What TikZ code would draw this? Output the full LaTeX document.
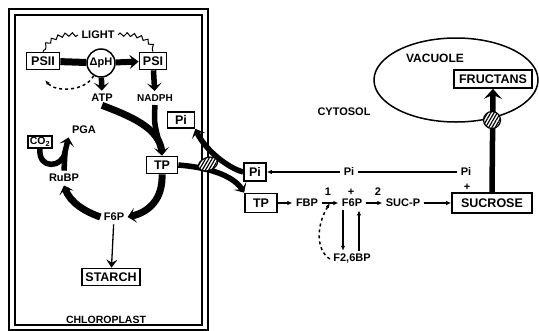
\documentclass[tikz,border=0pt]{standalone}
\usepackage{fontspec}
\setsansfont{Liberation Sans}
\usetikzlibrary{arrows.meta,positioning,shapes.geometric,decorations.pathmorphing,patterns.meta,calc}

\begin{document}
\begin{tikzpicture}[x=1pt, y=-1pt,
  font=\sffamily\bfseries\fontsize{11}{12}\selectfont,
  box/.style={draw, line width=1.7pt, inner sep=2pt,
    font=\sffamily\bfseries\fontsize{12.5}{13}\selectfont},
  thk/.style={line width=5.5pt},
  bigarr/.style={thk, -{Stealth[length=8pt,width=15pt,inset=4pt]}},
  arr/.style={-{Latex[length=5pt,width=4.5pt]}, line width=1.7pt},
  wave/.style={decorate, decoration={snake, amplitude=1.8pt, segment length=7pt}, line width=1pt},
  hatch/.style={draw, line width=1.2pt, fill=white,
    postaction={pattern={Lines[angle=60,distance=2.8pt,line width=1.2pt]}}}
]
\useasboundingbox (0,0) rectangle (539,330);

% chloroplast envelope
\draw[line width=2pt] (8.5,8.5) rectangle (208,329.5);
\draw[line width=1.2pt] (15,15) rectangle (202,325);

% light reactions
\node[box, minimum width=33pt, minimum height=17pt] (psii) at (43,61) {PSII};
\node[draw, circle, line width=1.5pt, minimum size=28pt, inner sep=0pt] (dph) at (101,63) {ΔpH};
\node[box, minimum width=27pt, minimum height=17pt] (psi) at (153,61) {PSI};
\node (light) at (98,35) {LIGHT};
\node (atp) at (102,98) {ATP};
\node[font=\sffamily\bfseries\fontsize{10}{11}\selectfont] (nadph) at (155,98) {NADPH};

% Calvin cycle
\node (pga) at (84,130) {PGA};
\node[box, font=\sffamily\bfseries\fontsize{10.5}{11}\selectfont, inner sep=1.5pt] (co2) at (40,142) {CO\textsubscript{2}};
\node (rubp) at (64,178) {RuBP};
\node[box, minimum width=31pt, minimum height=17pt] (tpin) at (162,165) {TP};
\node[box, minimum width=27pt, minimum height=16pt] (piin) at (181,120) {Pi};
\node (f6pin) at (114,217) {F6P};
\node[box, minimum width=58pt, minimum height=17pt] (starch) at (111,277) {STARCH};
\node[font=\sffamily\bfseries\fontsize{10.5}{11}\selectfont] (chloro) at (106,320) {CHLOROPLAST};
\coordinate (co2fix) at (65,152);
\coordinate (dashend) at (45,80);

% cytosol and vacuole
\node[box, minimum width=22pt, minimum height=18pt] (piout) at (255,172) {Pi};
\node[box, minimum width=32pt, minimum height=19pt] (tpout) at (261,203) {TP};
\node (cytosol) at (344,112) {CYTOSOL};
\node[draw, ellipse, line width=1.5pt, minimum width=164pt, minimum height=84pt] (vac) at (456,80) {};
\node[font=\sffamily\bfseries\fontsize{12}{13}\selectfont] (vaclbl) at (435,58) {VACUOLE};
\node[box, minimum width=78pt, minimum height=18pt] (fruct) at (493,79) {FRUCTANS};
\node[box, minimum width=80pt, minimum height=20pt] (sucr) at (492,203) {SUCROSE};
\node (fbp) at (307,203) {FBP};
\node (f6p) at (352,203) {F6P};
\node (sucp) at (403,203) {SUC-P};
\node (f26) at (352,259) {F2,6BP};
\node (pimid) at (349,172) {Pi};
\node (piright) at (466,172) {Pi};
\node (plus1) at (467,187) {+};
\node (n1) at (328,192) {1};
\node (plus2) at (351,192) {+};
\node (n2) at (378,192) {2};

% light and electron flow
\draw[wave] (light.west) .. controls (62,33) and (50,40) .. (psii.north);
\draw[wave] (light.east) .. controls (135,33) and (150,40) .. (psi.north);
\draw[line width=7pt] (psii) -- (dph);
\draw[line width=6pt, -{Stealth[length=9pt,width=14pt,inset=3.5pt]}] (dph) -- (psi);
\draw[bigarr] (dph) -- (atp);
\draw[bigarr] (psi) -- (nadph);
\draw[dashed, line width=1.5pt, -{Latex[length=5pt]}] (dph.240) .. controls (85,92) and (55,92) .. (dashend);

% cycle
\draw[bigarr, line width=7pt] (atp.south) .. controls (130,116) and (160,128) .. (tpin.north);
\draw[thk] (nadph.south) .. controls (154,122) .. (159,142);
\draw[bigarr, line width=7pt] (tpin.south) .. controls (163,198) and (150,212) .. (f6pin.east);
\draw[bigarr, line width=7pt] (f6pin.west) .. controls (86,212) and (70,203) .. (rubp.south);
\draw[thk] (rubp.north) -- (co2fix);
\draw[bigarr, line join=round] (co2.south) .. controls (38,170) and (63,168) .. (co2fix) -- (pga.south west);
\draw[line width=1.3pt, -{Stealth[length=8pt,width=11pt,inset=3pt]}] (f6pin) -- (starch);

% exchange across the envelope
\draw[bigarr] (piout.west) .. controls (228,168) and (205,150) .. (piin.south east);
\draw[bigarr] (tpin.east) .. controls (215,168) and (235,178) .. (tpout.north west);
\node[hatch, ellipse, minimum width=20pt, minimum height=13pt, rotate=20] (tr1) at (208,164) {};

% cytosolic pathway
\draw[arr] (tpout) -- (fbp);
\draw[arr] (fbp) -- (f6p);
\draw[arr] (f6p) -- (sucp);
\draw[arr] (sucp) -- (sucr);
\draw[arr] (pimid) -- (piout);
\draw[line width=1.7pt] (piright) -- (pimid);
\draw[arr] ([xshift=-9pt]f6p.south) -- ([xshift=-9pt]f26.north);
\draw[arr] ([xshift=7pt]f26.north) -- ([xshift=7pt]f6p.south);
\draw[dashed, line width=1.5pt, -{Latex[length=5pt]}] (f26.west) .. controls (316,250) and (316,226) .. ($(fbp.east)!0.5!(f6p.west)$);

% into the vacuole
\draw[thk, -{Stealth[length=10pt,width=18pt,inset=4pt]}] (sucr.north) -- (fruct.south);
\node[hatch, circle, minimum size=17pt] (tr2) at (492,120) {};
\end{tikzpicture}
\end{document}
